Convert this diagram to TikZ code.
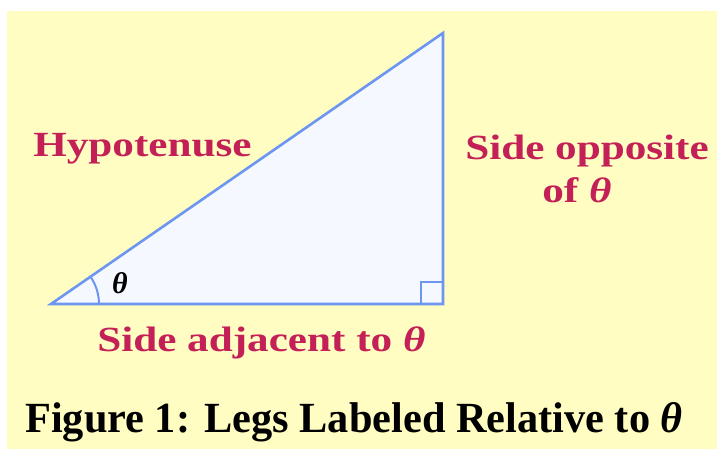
\documentclass[tikz,border=0pt]{standalone}
\usepackage{fontspec}
\setmainfont{Liberation Serif}
\usetikzlibrary{calc}
\definecolor{bgyellow}{RGB}{255,253,194}
\definecolor{edgeblue}{RGB}{108,150,240}
\definecolor{fillblue}{RGB}{245,248,255}
\definecolor{labelred}{RGB}{196,32,88}

\begin{document}
\begin{tikzpicture}[x=1pt,y=-1pt]
  \tikzstyle{lbl}=[text=labelred,inner sep=0pt,anchor=base west,xscale=1.27,yscale=1.04,
    font=\bfseries\fontsize{34}{34}\selectfont]
  \tikzstyle{figcap}=[text=black,inner sep=0pt,anchor=base west,xscale=0.985,
    font=\bfseries\fontsize{43}{43}\selectfont]
  % Fond
  \useasboundingbox (0,0) rectangle (717,449);
  \fill[bgyellow] (7,11) rectangle (717,449);
  % Sommets (triangle rectangle)
  \coordinate (A) at (51,304);   % angle theta
  \coordinate (B) at (443,304);  % angle droit
  \coordinate (C) at (443,33);   % sommet
  % Triangle
  \filldraw[fill=fillblue,draw=edgeblue,line width=2.6pt,line join=miter]
    (A)--(B)--(C)--cycle;
  % Angle droit et arc de theta
  \draw[edgeblue,line width=2.2pt] ($(B)+(-22,0)$)--++(0,-22)--++(22,0);
  \draw[edgeblue,line width=2pt] ($(A)+(48,0)$) arc[start angle=0,end angle=-34.66,radius=48];
  \node[inner sep=0pt,font=\bfseries\itshape\fontsize{30}{30}\selectfont] (theta) at (120,283) {θ};
  % Legendes
  \node[lbl] (hyp) at (33,157) {Hypotenuse};
  \node[lbl] (opp) at (465,160) {Side opposite};
  \node[lbl] (opp2) at (542,202) {of \textit{θ}};
  \node[lbl] (adj) at (97,351) {Side adjacent to \textit{θ}};
  \node[figcap] (fig) at (25,432) {Figure 1: Legs Labeled Relative to \textit{θ}};
\end{tikzpicture}
\end{document}
